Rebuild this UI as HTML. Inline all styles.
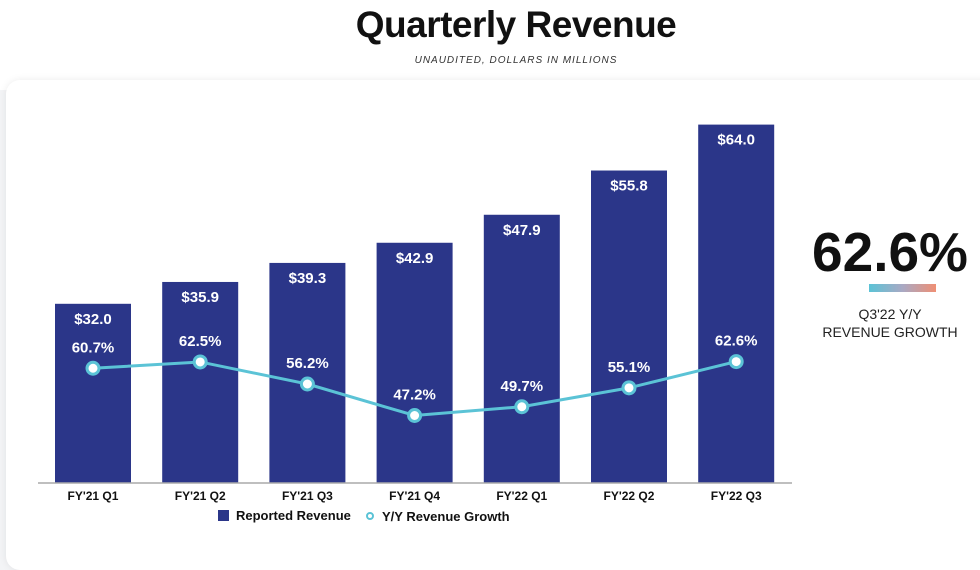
<!DOCTYPE html>
<html><head><meta charset="utf-8"><style>
body{margin:0;width:980px;height:556px;overflow:hidden;background:#f3f4f6;font-family:"Liberation Sans",sans-serif;position:relative}
.top{position:absolute;left:0;top:0;width:980px;height:90px;background:#fff}
.card{position:absolute;left:6px;top:80px;width:990px;height:490px;background:#fff;border-radius:14px;box-shadow:0 0 8px rgba(0,0,0,0.08)}
h1{position:absolute;left:0;width:1032px;top:4px;margin:0;text-align:center;font-size:37px;font-weight:900;letter-spacing:-0.5px;color:#111}
.sub{position:absolute;left:0;width:1032px;top:55px;text-align:center;font-size:10px;font-style:italic;letter-spacing:1px;color:#333}
.big{position:absolute;left:795px;top:220px;width:190px;text-align:center;font-size:55px;font-weight:bold;color:#111}
.grad{position:absolute;left:869px;top:284px;width:67px;height:8px;background:linear-gradient(90deg,#5bc3d6,#a9a9c4,#ef8f74)}
.cap{position:absolute;left:800px;top:305px;width:180px;text-align:center;font-size:14px;line-height:18px;color:#222}
</style></head><body>
<div class="top"></div>
<div class="card"></div>
<h1>Quarterly Revenue</h1>
<div class="sub">UNAUDITED, DOLLARS IN MILLIONS</div>
<svg id="c" width="980" height="556" style="position:absolute;left:0;top:0"></svg>
<div class="big">62.6%</div>
<div class="grad"></div>
<div class="cap">Q3'22 Y/Y<br>REVENUE GROWTH</div>
<script>
const categories=["FY'21 Q1","FY'21 Q2","FY'21 Q3","FY'21 Q4","FY'22 Q1","FY'22 Q2","FY'22 Q3"];
const revenue=[32.0,35.9,39.3,42.9,47.9,55.8,64.0];
const growth=[60.7,62.5,56.2,47.2,49.7,55.1,62.6];
const NS="http://www.w3.org/2000/svg",svg=document.getElementById('c');
const base=483,x0=55,pitch=107.2,bw=76;
const xC=i=>x0+i*pitch+bw/2;
const yR=v=>base-v*5.6;
const yG=v=>384-(v-56.2)*3.5;
function mk(t,a,txt){const e=document.createElementNS(NS,t);for(const k in a)e.setAttribute(k,a[k]);if(txt!=null)e.textContent=txt;svg.appendChild(e);return e;}
revenue.forEach((v,i)=>{
 const r=mk('rect',{x:xC(i)-bw/2,y:yR(v),width:bw,height:base-yR(v),fill:'#2b3689'});
 
 
 const t=mk('text',{x:xC(i),y:yR(v)+20,'text-anchor':'middle','font-size':15,'font-weight':'bold',fill:'#fff'},'$'+v.toFixed(1));
 
 
 const c=mk('text',{x:xC(i),y:base+17,'text-anchor':'middle','font-size':12,'font-weight':'bold',fill:'#111'},categories[i]);
 
 
});
const ax=mk('line',{x1:38,x2:792,y1:base,y2:base,stroke:'#aaa','stroke-width':1.5});


const pl=mk('polyline',{points:growth.map((v,i)=>xC(i)+','+yG(v)).join(' '),fill:'none',stroke:'#5bc3d6','stroke-width':3});


growth.forEach((v,i)=>{
 const c=mk('circle',{cx:xC(i),cy:yG(v),r:6,fill:'#fff',stroke:'#5bc3d6','stroke-width':3});
 
 
 const t=mk('text',{x:xC(i),y:yG(v)-16,'text-anchor':'middle','font-size':15,'font-weight':'bold',fill:'#fff'},v.toFixed(1)+'%');
 
 
});
const l1=mk('rect',{x:218,y:510,width:11,height:11,fill:'#2b3689'});


const l2=mk('text',{x:236,y:520,'font-size':13,'font-weight':'bold',fill:'#111'},'Reported Revenue');


const l3=mk('circle',{cx:370,cy:516,r:3,fill:'#fff',stroke:'#5bc3d6','stroke-width':2});


const l4=mk('text',{x:382,y:521,'font-size':13,'font-weight':'bold',fill:'#111'},'Y/Y Revenue Growth');


</script>
</body></html>
